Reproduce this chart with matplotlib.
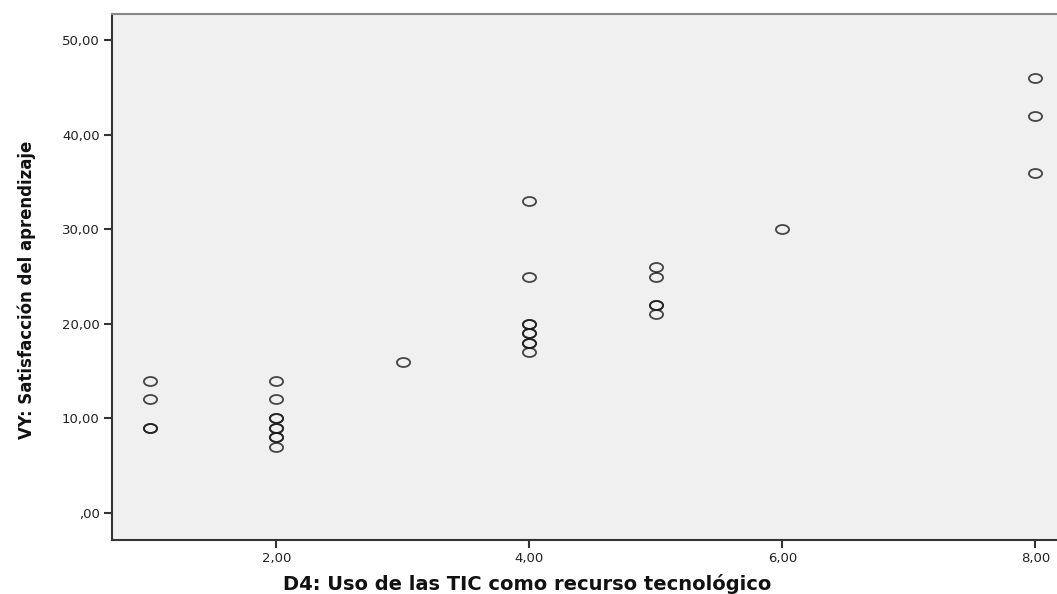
import matplotlib.pyplot as plt
from matplotlib.path import Path
from matplotlib.transforms import Affine2D
from matplotlib.ticker import FuncFormatter

# D4 score vs VY score (duplicates repeated, they show as darker rings)
d4 = [1, 1, 1, 1,
      2, 2, 2, 2, 2, 2, 2, 2, 2,
      3,
      4, 4, 4, 4, 4, 4, 4, 4, 4,
      5, 5, 5, 5, 5,
      6,
      8, 8, 8]
vy = [14, 12, 9, 9,
      14, 12, 10, 10, 9, 9, 8, 8, 7,
      16,
      33, 25, 20, 20, 19, 19, 18, 18, 17,
      26, 25, 22, 22, 21,
      30,
      46, 42, 36]

x_ticks = [2, 4, 6, 8]
y_ticks = [0, 10, 20, 30, 40, 50]


def comma_fmt(v, pos):
    s = '%.2f' % v
    s = s.replace('.', ',')
    if s.startswith('0,'):
        s = s[1:]
    return s


ellipse = Path.unit_circle().transformed(Affine2D().scale(1.0, 0.68))

fig = plt.figure(figsize=(10.57, 5.94), dpi=100)
ax = fig.add_axes([0.106, 0.091, 0.894, 0.886])
ax.set_facecolor('#f0f0f0')

ax.plot(d4, vy, linestyle='none', marker=ellipse, markersize=9.5,
        markerfacecolor='none', markeredgecolor='#1a1a1a', markeredgewidth=1.3, alpha=0.8)

ax.set_xlim(0.7, 8.17)
ax.set_ylim(-2.86, 52.8)
ax.set_xticks(x_ticks)
ax.set_yticks(y_ticks)
ax.xaxis.set_major_formatter(FuncFormatter(comma_fmt))
ax.yaxis.set_major_formatter(FuncFormatter(comma_fmt))
ax.tick_params(length=6, width=1.5, color='#333333', labelsize=9.5, labelcolor='#222222', pad=3)
for lab in ax.get_xticklabels() + ax.get_yticklabels():
    lab.set_family('DejaVu Sans')

for side in ['left', 'bottom']:
    ax.spines[side].set_color('#333333')
    ax.spines[side].set_linewidth(1.5)
ax.spines['top'].set_color('#888888')
ax.spines['top'].set_linewidth(1.5)
ax.spines['right'].set_visible(False)

ax.set_xlabel('D4: Uso de las TIC como recurso tecnológico', fontsize=14, fontweight='bold',
              family='DejaVu Sans', color='#111111')
ax.xaxis.set_label_coords(0.439, -0.064)
ax.set_ylabel('VY: Satisfacción del aprendizaje', fontsize=13.2, fontweight='bold',
              family=['Liberation Sans Narrow', 'DejaVu Sans'], fontstretch='condensed',
              color='#111111')
ax.yaxis.set_label_coords(-0.081, 0.475)

plt.savefig('out.png', dpi=100)
